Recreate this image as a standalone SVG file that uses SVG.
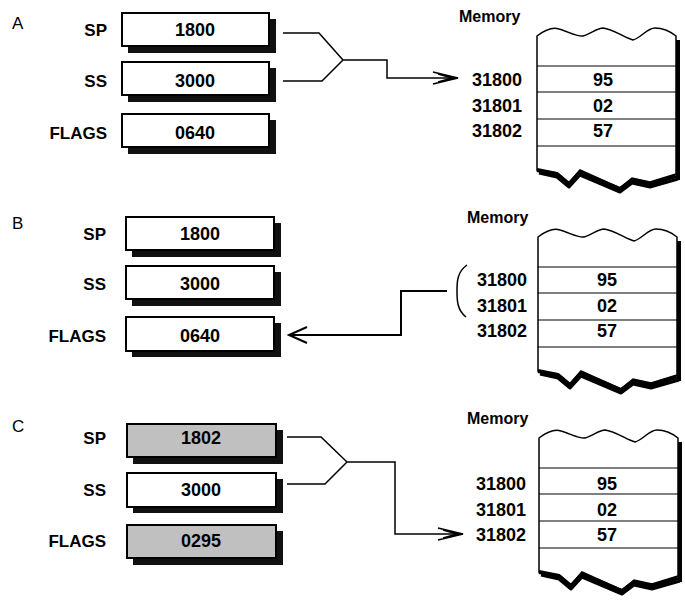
<svg xmlns="http://www.w3.org/2000/svg" width="685" height="600" viewBox="0 0 685 600">
<style>
.bg{fill:#fff}
.sh{fill:#111}
.box{fill:#fff;stroke:#000;stroke-width:2}
.gray{fill:#c0c0c0;stroke:#000;stroke-width:2}
.v{font-family:"Liberation Sans",Arial,sans-serif;font-weight:bold;font-size:18px;fill:#000;text-anchor:middle}
.ad{font-family:"Liberation Sans",Arial,sans-serif;font-weight:bold;font-size:18px;fill:#000;text-anchor:end}
.lab{font-family:"Liberation Sans",Arial,sans-serif;font-weight:bold;font-size:17px;fill:#000;text-anchor:end}
.pl{font-family:"Liberation Sans",Arial,sans-serif;font-size:17px;fill:#000}
.mem{font-family:"Liberation Sans",Arial,sans-serif;font-weight:bold;font-size:16px;fill:#000}
.ln{fill:none;stroke:#000;stroke-width:1.5}
.row{stroke:#000;stroke-width:1.2}
</style>
<defs>
<g id="frame">
<path d="M0,36 C8,30 16,27 22,29 C30,31 40,37 46,36 C54,34 60,28 66,28 C76,29 88,38 96,40 C104,38 110,28 118,28 C126,28 134,32 139,36 L139,174 L113,182 L95,178 L83,188 L43,170 L32,183 L20,173 L0,170 Z" fill="#fff" stroke="#000" stroke-width="1.5"/>
<path d="M0,170 L20,174 L32,184 L43,172 L83,189 L95,180 L113,184 L139,176" fill="none" stroke="#000" stroke-width="4" stroke-linejoin="round"/>
<path d="M2,173 L20,177 L32,187 L43,175 L83,192 L95,183 L113,187 L141,179" fill="none" stroke="#000" stroke-width="3" stroke-linejoin="round"/>
<line x1="141" y1="40" x2="141" y2="180" stroke="#000" stroke-width="4"/>
<line x1="0" y1="66" x2="139" y2="66" class="row"/>
<line x1="0" y1="92" x2="139" y2="92" class="row"/>
<line x1="0" y1="119" x2="139" y2="119" class="row"/>
<line x1="0" y1="146" x2="139" y2="146" class="row"/>
</g>
</defs>
<rect class="bg" x="0" y="0" width="685" height="600"/>

<!-- Panel A -->
<text class="pl" x="12" y="29">A</text>
<g id="A-SP"><rect class="sh" x="128" y="19" width="148" height="34"/><rect class="box" x="122" y="13" width="147" height="33"/><text class="lab" x="107" y="36">SP</text><text class="v" x="195" y="36">1800</text></g>
<g id="A-SS"><rect class="sh" x="128" y="68" width="148" height="34"/><rect class="box" x="122" y="62" width="147" height="33"/><text class="lab" x="107" y="87">SS</text><text class="v" x="195" y="87">3000</text></g>
<g id="A-FLAGS"><rect class="sh" x="128" y="120" width="148" height="34"/><rect class="box" x="122" y="114" width="147" height="33"/><text class="lab" x="107" y="139">FLAGS</text><text class="v" x="195" y="139">0640</text></g>
<g id="A-Memory">
<text class="mem" x="459" y="22">Memory</text>
<use href="#frame" x="537" y="0"/>
<text class="ad" x="522" y="86">31800</text><text class="v" x="603" y="86">95</text>
<text class="ad" x="522" y="112">31801</text><text class="v" x="603" y="112">02</text>
<text class="ad" x="522" y="137">31802</text><text class="v" x="603" y="137">57</text>
</g>

<!-- Panel B -->
<text class="pl" x="12" y="229">B</text>
<g id="B-SP"><rect class="sh" x="132" y="223" width="149" height="34"/><rect class="box" x="126" y="217" width="148" height="33"/><text class="lab" x="106" y="240">SP</text><text class="v" x="200" y="240">1800</text></g>
<g id="B-SS"><rect class="sh" x="132" y="272" width="149" height="34"/><rect class="box" x="126" y="266" width="148" height="33"/><text class="lab" x="106" y="290">SS</text><text class="v" x="200" y="290">3000</text></g>
<g id="B-FLAGS"><rect class="sh" x="132" y="323" width="149" height="34"/><rect class="box" x="126" y="317" width="148" height="34"/><text class="lab" x="106" y="342">FLAGS</text><text class="v" x="200" y="342">0640</text></g>
<g id="B-Memory">
<text class="mem" x="467" y="223">Memory</text>
<use href="#frame" x="538" y="201"/>
<text class="ad" x="527" y="286">31800</text><text class="v" x="607" y="286">95</text>
<text class="ad" x="527" y="312">31801</text><text class="v" x="607" y="312">02</text>
<text class="ad" x="527" y="337">31802</text><text class="v" x="607" y="337">57</text>
</g>

<!-- Panel C -->
<text class="pl" x="12" y="432">C</text>
<g id="C-SP"><rect class="sh" x="133" y="430" width="150" height="34"/><rect class="gray" x="127" y="424" width="149" height="33"/><text class="lab" x="106" y="444">SP</text><text class="v" x="201" y="444">1802</text></g>
<g id="C-SS"><rect class="sh" x="133" y="479" width="150" height="34"/><rect class="box" x="127" y="473" width="149" height="34"/><text class="lab" x="106" y="496">SS</text><text class="v" x="201" y="496">3000</text></g>
<g id="C-FLAGS"><rect class="sh" x="133" y="531" width="150" height="34"/><rect class="gray" x="127" y="525" width="149" height="33"/><text class="lab" x="106" y="547">FLAGS</text><text class="v" x="201" y="547">0295</text></g>
<g id="C-Memory">
<text class="mem" x="467" y="424">Memory</text>
<use href="#frame" x="539" y="402"/>
<text class="ad" x="526" y="490">31800</text><text class="v" x="607" y="490">95</text>
<text class="ad" x="526" y="516">31801</text><text class="v" x="607" y="516">02</text>
<text class="ad" x="526" y="541">31802</text><text class="v" x="607" y="541">57</text>
</g>

<!-- Connectors -->
<g id="connectors">
<path class="ln" d="M283,33 L319,33 L343,60 M283,81 L322,81 L343,60 L387,60 L387,78 L458,78"/>
<path class="ln" d="M433,72 L458,78 L433,84 M438,74 L452,78 L438,82"/>
<path fill="none" stroke="#000" stroke-width="1.5" d="M467,265 C457,272 457,282 457,291 C457,300 457,310 466,317"/>
<path fill="none" stroke="#000" stroke-width="2" d="M447,291 L401,291 L401,335 L289,335 M307,327 L289,335 L307,343"/>
<path class="ln" d="M287,437 L321,437 L347,462 M287,484 L325,484 L347,462 L395,462 L395,534 L463,534"/>
<path class="ln" d="M438,528 L463,534 L438,540 M443,530 L457,534 L443,538"/>
</g>
</svg>
